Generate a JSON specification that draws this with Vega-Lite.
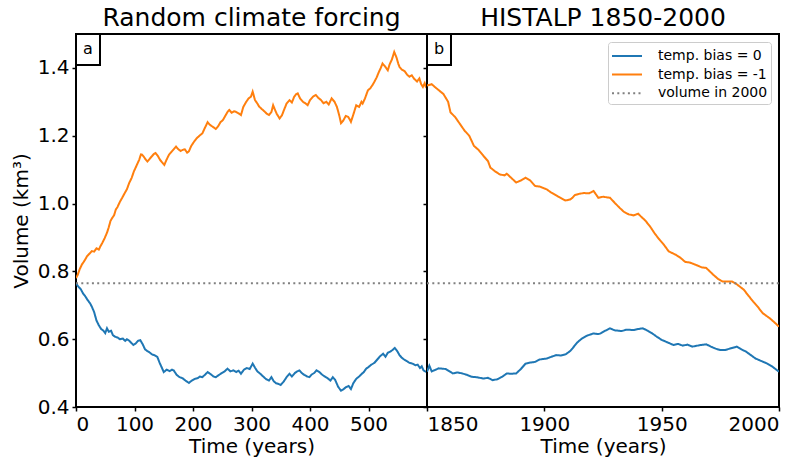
{
  "$schema": "https://vega.github.io/schema/vega-lite/v6.json",
  "padding": {"left": 10, "top": 5, "right": 5, "bottom": 0},
  "spacing": 0,
  "bounds": "flush",
  "config": {
    "font": "DejaVu Sans",
    "view": {"stroke": "black", "strokeWidth": 2},
    "axis": {"domain": false, "grid": false, "labelFontSize": 20, "titleFontSize": 20, "labelColor": "black", "titleColor": "black", "tickColor": "black", "tickSize": 4, "tickWidth": 1.5, "titleFontWeight": "normal", "labelPadding": 3},
    "axisX": {"titlePadding": 2},
    "title": {"fontSize": 25, "fontWeight": "normal", "offset": -1, "color": "black"}
  },
  "datasets": {
    "left": [
      {"t":0,"v":0.765,"s":"temp. bias = 0"},{"t":4,"v":0.755,"s":"temp. bias = 0"},{"t":8,"v":0.748,"s":"temp. bias = 0"},{"t":12,"v":0.735,"s":"temp. bias = 0"},{"t":16,"v":0.726,"s":"temp. bias = 0"},{"t":20,"v":0.715,"s":"temp. bias = 0"},{"t":24,"v":0.706,"s":"temp. bias = 0"},{"t":27,"v":0.696,"s":"temp. bias = 0"},{"t":31,"v":0.68,"s":"temp. bias = 0"},{"t":35,"v":0.655,"s":"temp. bias = 0"},{"t":39,"v":0.641,"s":"temp. bias = 0"},{"t":43,"v":0.63,"s":"temp. bias = 0"},{"t":47,"v":0.625,"s":"temp. bias = 0"},{"t":50,"v":0.618,"s":"temp. bias = 0"},{"t":53,"v":0.632,"s":"temp. bias = 0"},{"t":56,"v":0.622,"s":"temp. bias = 0"},{"t":60,"v":0.625,"s":"temp. bias = 0"},{"t":63,"v":0.612,"s":"temp. bias = 0"},{"t":67,"v":0.607,"s":"temp. bias = 0"},{"t":71,"v":0.605,"s":"temp. bias = 0"},{"t":75,"v":0.6,"s":"temp. bias = 0"},{"t":80,"v":0.602,"s":"temp. bias = 0"},{"t":84,"v":0.595,"s":"temp. bias = 0"},{"t":87,"v":0.6,"s":"temp. bias = 0"},{"t":90,"v":0.597,"s":"temp. bias = 0"},{"t":94,"v":0.59,"s":"temp. bias = 0"},{"t":98,"v":0.583,"s":"temp. bias = 0"},{"t":102,"v":0.587,"s":"temp. bias = 0"},{"t":106,"v":0.595,"s":"temp. bias = 0"},{"t":110,"v":0.597,"s":"temp. bias = 0"},{"t":114,"v":0.585,"s":"temp. bias = 0"},{"t":118,"v":0.57,"s":"temp. bias = 0"},{"t":122,"v":0.565,"s":"temp. bias = 0"},{"t":125,"v":0.562,"s":"temp. bias = 0"},{"t":130,"v":0.555,"s":"temp. bias = 0"},{"t":134,"v":0.553,"s":"temp. bias = 0"},{"t":139,"v":0.548,"s":"temp. bias = 0"},{"t":143,"v":0.53,"s":"temp. bias = 0"},{"t":147,"v":0.515,"s":"temp. bias = 0"},{"t":150,"v":0.503,"s":"temp. bias = 0"},{"t":155,"v":0.51,"s":"temp. bias = 0"},{"t":160,"v":0.506,"s":"temp. bias = 0"},{"t":164,"v":0.51,"s":"temp. bias = 0"},{"t":167,"v":0.508,"s":"temp. bias = 0"},{"t":172,"v":0.495,"s":"temp. bias = 0"},{"t":177,"v":0.488,"s":"temp. bias = 0"},{"t":182,"v":0.485,"s":"temp. bias = 0"},{"t":187,"v":0.478,"s":"temp. bias = 0"},{"t":193,"v":0.471,"s":"temp. bias = 0"},{"t":198,"v":0.478,"s":"temp. bias = 0"},{"t":203,"v":0.483,"s":"temp. bias = 0"},{"t":208,"v":0.485,"s":"temp. bias = 0"},{"t":212,"v":0.49,"s":"temp. bias = 0"},{"t":216,"v":0.488,"s":"temp. bias = 0"},{"t":221,"v":0.496,"s":"temp. bias = 0"},{"t":225,"v":0.503,"s":"temp. bias = 0"},{"t":230,"v":0.497,"s":"temp. bias = 0"},{"t":235,"v":0.49,"s":"temp. bias = 0"},{"t":239,"v":0.488,"s":"temp. bias = 0"},{"t":244,"v":0.494,"s":"temp. bias = 0"},{"t":249,"v":0.5,"s":"temp. bias = 0"},{"t":254,"v":0.505,"s":"temp. bias = 0"},{"t":259,"v":0.513,"s":"temp. bias = 0"},{"t":264,"v":0.505,"s":"temp. bias = 0"},{"t":269,"v":0.508,"s":"temp. bias = 0"},{"t":274,"v":0.503,"s":"temp. bias = 0"},{"t":278,"v":0.507,"s":"temp. bias = 0"},{"t":282,"v":0.498,"s":"temp. bias = 0"},{"t":287,"v":0.51,"s":"temp. bias = 0"},{"t":292,"v":0.515,"s":"temp. bias = 0"},{"t":297,"v":0.512,"s":"temp. bias = 0"},{"t":302,"v":0.528,"s":"temp. bias = 0"},{"t":306,"v":0.516,"s":"temp. bias = 0"},{"t":310,"v":0.505,"s":"temp. bias = 0"},{"t":315,"v":0.498,"s":"temp. bias = 0"},{"t":320,"v":0.49,"s":"temp. bias = 0"},{"t":325,"v":0.482,"s":"temp. bias = 0"},{"t":330,"v":0.478,"s":"temp. bias = 0"},{"t":334,"v":0.488,"s":"temp. bias = 0"},{"t":338,"v":0.476,"s":"temp. bias = 0"},{"t":342,"v":0.47,"s":"temp. bias = 0"},{"t":346,"v":0.468,"s":"temp. bias = 0"},{"t":350,"v":0.465,"s":"temp. bias = 0"},{"t":355,"v":0.475,"s":"temp. bias = 0"},{"t":360,"v":0.488,"s":"temp. bias = 0"},{"t":365,"v":0.498,"s":"temp. bias = 0"},{"t":369,"v":0.49,"s":"temp. bias = 0"},{"t":374,"v":0.5,"s":"temp. bias = 0"},{"t":378,"v":0.505,"s":"temp. bias = 0"},{"t":382,"v":0.508,"s":"temp. bias = 0"},{"t":386,"v":0.5,"s":"temp. bias = 0"},{"t":390,"v":0.495,"s":"temp. bias = 0"},{"t":395,"v":0.49,"s":"temp. bias = 0"},{"t":399,"v":0.488,"s":"temp. bias = 0"},{"t":403,"v":0.496,"s":"temp. bias = 0"},{"t":407,"v":0.5,"s":"temp. bias = 0"},{"t":411,"v":0.508,"s":"temp. bias = 0"},{"t":416,"v":0.503,"s":"temp. bias = 0"},{"t":421,"v":0.495,"s":"temp. bias = 0"},{"t":425,"v":0.49,"s":"temp. bias = 0"},{"t":430,"v":0.485,"s":"temp. bias = 0"},{"t":435,"v":0.478,"s":"temp. bias = 0"},{"t":439,"v":0.488,"s":"temp. bias = 0"},{"t":443,"v":0.48,"s":"temp. bias = 0"},{"t":448,"v":0.46,"s":"temp. bias = 0"},{"t":453,"v":0.448,"s":"temp. bias = 0"},{"t":457,"v":0.452,"s":"temp. bias = 0"},{"t":461,"v":0.458,"s":"temp. bias = 0"},{"t":466,"v":0.462,"s":"temp. bias = 0"},{"t":470,"v":0.453,"s":"temp. bias = 0"},{"t":474,"v":0.47,"s":"temp. bias = 0"},{"t":479,"v":0.483,"s":"temp. bias = 0"},{"t":484,"v":0.49,"s":"temp. bias = 0"},{"t":488,"v":0.497,"s":"temp. bias = 0"},{"t":492,"v":0.503,"s":"temp. bias = 0"},{"t":496,"v":0.513,"s":"temp. bias = 0"},{"t":500,"v":0.518,"s":"temp. bias = 0"},{"t":505,"v":0.525,"s":"temp. bias = 0"},{"t":510,"v":0.53,"s":"temp. bias = 0"},{"t":515,"v":0.54,"s":"temp. bias = 0"},{"t":520,"v":0.55,"s":"temp. bias = 0"},{"t":525,"v":0.557,"s":"temp. bias = 0"},{"t":529,"v":0.548,"s":"temp. bias = 0"},{"t":533,"v":0.56,"s":"temp. bias = 0"},{"t":537,"v":0.563,"s":"temp. bias = 0"},{"t":541,"v":0.568,"s":"temp. bias = 0"},{"t":545,"v":0.574,"s":"temp. bias = 0"},{"t":549,"v":0.565,"s":"temp. bias = 0"},{"t":553,"v":0.553,"s":"temp. bias = 0"},{"t":557,"v":0.545,"s":"temp. bias = 0"},{"t":561,"v":0.54,"s":"temp. bias = 0"},{"t":566,"v":0.535,"s":"temp. bias = 0"},{"t":570,"v":0.53,"s":"temp. bias = 0"},{"t":575,"v":0.528,"s":"temp. bias = 0"},{"t":580,"v":0.523,"s":"temp. bias = 0"},{"t":584,"v":0.525,"s":"temp. bias = 0"},{"t":588,"v":0.515,"s":"temp. bias = 0"},{"t":591,"v":0.52,"s":"temp. bias = 0"},{"t":594,"v":0.508,"s":"temp. bias = 0"},{"t":597,"v":0.505,"s":"temp. bias = 0"},{"t":600,"v":0.503,"s":"temp. bias = 0"},
      {"t":0,"v":0.78,"s":"temp. bias = -1"},{"t":3,"v":0.79,"s":"temp. bias = -1"},{"t":6,"v":0.805,"s":"temp. bias = -1"},{"t":10,"v":0.82,"s":"temp. bias = -1"},{"t":14,"v":0.83,"s":"temp. bias = -1"},{"t":19,"v":0.845,"s":"temp. bias = -1"},{"t":23,"v":0.852,"s":"temp. bias = -1"},{"t":27,"v":0.86,"s":"temp. bias = -1"},{"t":31,"v":0.858,"s":"temp. bias = -1"},{"t":35,"v":0.868,"s":"temp. bias = -1"},{"t":39,"v":0.864,"s":"temp. bias = -1"},{"t":42,"v":0.875,"s":"temp. bias = -1"},{"t":45,"v":0.884,"s":"temp. bias = -1"},{"t":49,"v":0.898,"s":"temp. bias = -1"},{"t":53,"v":0.914,"s":"temp. bias = -1"},{"t":56,"v":0.93,"s":"temp. bias = -1"},{"t":59,"v":0.949,"s":"temp. bias = -1"},{"t":62,"v":0.958,"s":"temp. bias = -1"},{"t":65,"v":0.965,"s":"temp. bias = -1"},{"t":68,"v":0.982,"s":"temp. bias = -1"},{"t":71,"v":0.99,"s":"temp. bias = -1"},{"t":75,"v":1.005,"s":"temp. bias = -1"},{"t":79,"v":1.017,"s":"temp. bias = -1"},{"t":83,"v":1.03,"s":"temp. bias = -1"},{"t":87,"v":1.042,"s":"temp. bias = -1"},{"t":91,"v":1.061,"s":"temp. bias = -1"},{"t":95,"v":1.075,"s":"temp. bias = -1"},{"t":99,"v":1.095,"s":"temp. bias = -1"},{"t":103,"v":1.11,"s":"temp. bias = -1"},{"t":108,"v":1.129,"s":"temp. bias = -1"},{"t":111,"v":1.145,"s":"temp. bias = -1"},{"t":113,"v":1.144,"s":"temp. bias = -1"},{"t":116,"v":1.138,"s":"temp. bias = -1"},{"t":119,"v":1.13,"s":"temp. bias = -1"},{"t":122,"v":1.124,"s":"temp. bias = -1"},{"t":126,"v":1.132,"s":"temp. bias = -1"},{"t":130,"v":1.14,"s":"temp. bias = -1"},{"t":133,"v":1.146,"s":"temp. bias = -1"},{"t":136,"v":1.149,"s":"temp. bias = -1"},{"t":140,"v":1.14,"s":"temp. bias = -1"},{"t":144,"v":1.128,"s":"temp. bias = -1"},{"t":148,"v":1.12,"s":"temp. bias = -1"},{"t":151,"v":1.114,"s":"temp. bias = -1"},{"t":155,"v":1.13,"s":"temp. bias = -1"},{"t":159,"v":1.144,"s":"temp. bias = -1"},{"t":163,"v":1.152,"s":"temp. bias = -1"},{"t":167,"v":1.16,"s":"temp. bias = -1"},{"t":171,"v":1.168,"s":"temp. bias = -1"},{"t":175,"v":1.16,"s":"temp. bias = -1"},{"t":179,"v":1.155,"s":"temp. bias = -1"},{"t":182,"v":1.158,"s":"temp. bias = -1"},{"t":186,"v":1.16,"s":"temp. bias = -1"},{"t":190,"v":1.15,"s":"temp. bias = -1"},{"t":193,"v":1.154,"s":"temp. bias = -1"},{"t":197,"v":1.17,"s":"temp. bias = -1"},{"t":202,"v":1.183,"s":"temp. bias = -1"},{"t":206,"v":1.192,"s":"temp. bias = -1"},{"t":211,"v":1.2,"s":"temp. bias = -1"},{"t":216,"v":1.207,"s":"temp. bias = -1"},{"t":220,"v":1.222,"s":"temp. bias = -1"},{"t":225,"v":1.24,"s":"temp. bias = -1"},{"t":229,"v":1.232,"s":"temp. bias = -1"},{"t":234,"v":1.226,"s":"temp. bias = -1"},{"t":239,"v":1.22,"s":"temp. bias = -1"},{"t":243,"v":1.228,"s":"temp. bias = -1"},{"t":247,"v":1.24,"s":"temp. bias = -1"},{"t":251,"v":1.246,"s":"temp. bias = -1"},{"t":255,"v":1.258,"s":"temp. bias = -1"},{"t":259,"v":1.27,"s":"temp. bias = -1"},{"t":262,"v":1.276,"s":"temp. bias = -1"},{"t":266,"v":1.268,"s":"temp. bias = -1"},{"t":270,"v":1.272,"s":"temp. bias = -1"},{"t":273,"v":1.271,"s":"temp. bias = -1"},{"t":278,"v":1.266,"s":"temp. bias = -1"},{"t":282,"v":1.261,"s":"temp. bias = -1"},{"t":286,"v":1.285,"s":"temp. bias = -1"},{"t":291,"v":1.3,"s":"temp. bias = -1"},{"t":295,"v":1.31,"s":"temp. bias = -1"},{"t":299,"v":1.315,"s":"temp. bias = -1"},{"t":302,"v":1.33,"s":"temp. bias = -1"},{"t":306,"v":1.305,"s":"temp. bias = -1"},{"t":310,"v":1.295,"s":"temp. bias = -1"},{"t":313,"v":1.286,"s":"temp. bias = -1"},{"t":318,"v":1.278,"s":"temp. bias = -1"},{"t":322,"v":1.272,"s":"temp. bias = -1"},{"t":326,"v":1.265,"s":"temp. bias = -1"},{"t":330,"v":1.261,"s":"temp. bias = -1"},{"t":334,"v":1.27,"s":"temp. bias = -1"},{"t":337,"v":1.29,"s":"temp. bias = -1"},{"t":339,"v":1.281,"s":"temp. bias = -1"},{"t":343,"v":1.265,"s":"temp. bias = -1"},{"t":348,"v":1.251,"s":"temp. bias = -1"},{"t":352,"v":1.26,"s":"temp. bias = -1"},{"t":356,"v":1.278,"s":"temp. bias = -1"},{"t":360,"v":1.295,"s":"temp. bias = -1"},{"t":365,"v":1.305,"s":"temp. bias = -1"},{"t":369,"v":1.298,"s":"temp. bias = -1"},{"t":373,"v":1.315,"s":"temp. bias = -1"},{"t":376,"v":1.322,"s":"temp. bias = -1"},{"t":379,"v":1.325,"s":"temp. bias = -1"},{"t":383,"v":1.31,"s":"temp. bias = -1"},{"t":388,"v":1.3,"s":"temp. bias = -1"},{"t":392,"v":1.296,"s":"temp. bias = -1"},{"t":396,"v":1.29,"s":"temp. bias = -1"},{"t":400,"v":1.305,"s":"temp. bias = -1"},{"t":405,"v":1.315,"s":"temp. bias = -1"},{"t":410,"v":1.32,"s":"temp. bias = -1"},{"t":414,"v":1.312,"s":"temp. bias = -1"},{"t":419,"v":1.305,"s":"temp. bias = -1"},{"t":423,"v":1.296,"s":"temp. bias = -1"},{"t":428,"v":1.3,"s":"temp. bias = -1"},{"t":432,"v":1.292,"s":"temp. bias = -1"},{"t":437,"v":1.31,"s":"temp. bias = -1"},{"t":442,"v":1.3,"s":"temp. bias = -1"},{"t":446,"v":1.285,"s":"temp. bias = -1"},{"t":450,"v":1.26,"s":"temp. bias = -1"},{"t":453,"v":1.237,"s":"temp. bias = -1"},{"t":457,"v":1.245,"s":"temp. bias = -1"},{"t":461,"v":1.258,"s":"temp. bias = -1"},{"t":465,"v":1.256,"s":"temp. bias = -1"},{"t":468,"v":1.248,"s":"temp. bias = -1"},{"t":470,"v":1.241,"s":"temp. bias = -1"},{"t":474,"v":1.262,"s":"temp. bias = -1"},{"t":479,"v":1.29,"s":"temp. bias = -1"},{"t":484,"v":1.285,"s":"temp. bias = -1"},{"t":488,"v":1.3,"s":"temp. bias = -1"},{"t":490,"v":1.295,"s":"temp. bias = -1"},{"t":494,"v":1.31,"s":"temp. bias = -1"},{"t":499,"v":1.334,"s":"temp. bias = -1"},{"t":503,"v":1.34,"s":"temp. bias = -1"},{"t":507,"v":1.35,"s":"temp. bias = -1"},{"t":510,"v":1.359,"s":"temp. bias = -1"},{"t":514,"v":1.372,"s":"temp. bias = -1"},{"t":517,"v":1.385,"s":"temp. bias = -1"},{"t":521,"v":1.4,"s":"temp. bias = -1"},{"t":524,"v":1.413,"s":"temp. bias = -1"},{"t":528,"v":1.405,"s":"temp. bias = -1"},{"t":533,"v":1.393,"s":"temp. bias = -1"},{"t":536,"v":1.41,"s":"temp. bias = -1"},{"t":540,"v":1.425,"s":"temp. bias = -1"},{"t":544,"v":1.447,"s":"temp. bias = -1"},{"t":548,"v":1.43,"s":"temp. bias = -1"},{"t":551,"v":1.412,"s":"temp. bias = -1"},{"t":553,"v":1.403,"s":"temp. bias = -1"},{"t":557,"v":1.395,"s":"temp. bias = -1"},{"t":562,"v":1.39,"s":"temp. bias = -1"},{"t":566,"v":1.38,"s":"temp. bias = -1"},{"t":570,"v":1.374,"s":"temp. bias = -1"},{"t":574,"v":1.378,"s":"temp. bias = -1"},{"t":578,"v":1.368,"s":"temp. bias = -1"},{"t":583,"v":1.36,"s":"temp. bias = -1"},{"t":587,"v":1.369,"s":"temp. bias = -1"},{"t":590,"v":1.352,"s":"temp. bias = -1"},{"t":593,"v":1.344,"s":"temp. bias = -1"},{"t":596,"v":1.355,"s":"temp. bias = -1"},{"t":598,"v":1.344,"s":"temp. bias = -1"},{"t":600,"v":1.34,"s":"temp. bias = -1"},
      {"t":0,"v":0.765,"s":"volume in 2000"},{"t":600,"v":0.765,"s":"volume in 2000"}
    ],
    "right": [
      {"t":1850,"v":0.504,"s":"temp. bias = 0"},{"t":1851,"v":0.522,"s":"temp. bias = 0"},{"t":1852,"v":0.505,"s":"temp. bias = 0"},{"t":1855,"v":0.514,"s":"temp. bias = 0"},{"t":1858,"v":0.512,"s":"temp. bias = 0"},{"t":1861,"v":0.499,"s":"temp. bias = 0"},{"t":1863,"v":0.502,"s":"temp. bias = 0"},{"t":1865,"v":0.499,"s":"temp. bias = 0"},{"t":1867,"v":0.495,"s":"temp. bias = 0"},{"t":1869,"v":0.489,"s":"temp. bias = 0"},{"t":1871,"v":0.488,"s":"temp. bias = 0"},{"t":1874,"v":0.484,"s":"temp. bias = 0"},{"t":1876,"v":0.486,"s":"temp. bias = 0"},{"t":1878,"v":0.479,"s":"temp. bias = 0"},{"t":1880,"v":0.482,"s":"temp. bias = 0"},{"t":1882,"v":0.489,"s":"temp. bias = 0"},{"t":1884,"v":0.499,"s":"temp. bias = 0"},{"t":1886,"v":0.498,"s":"temp. bias = 0"},{"t":1888,"v":0.499,"s":"temp. bias = 0"},{"t":1890,"v":0.512,"s":"temp. bias = 0"},{"t":1892,"v":0.528,"s":"temp. bias = 0"},{"t":1894,"v":0.531,"s":"temp. bias = 0"},{"t":1896,"v":0.533,"s":"temp. bias = 0"},{"t":1898,"v":0.54,"s":"temp. bias = 0"},{"t":1901,"v":0.543,"s":"temp. bias = 0"},{"t":1903,"v":0.548,"s":"temp. bias = 0"},{"t":1905,"v":0.553,"s":"temp. bias = 0"},{"t":1907,"v":0.552,"s":"temp. bias = 0"},{"t":1909,"v":0.555,"s":"temp. bias = 0"},{"t":1911,"v":0.565,"s":"temp. bias = 0"},{"t":1912,"v":0.573,"s":"temp. bias = 0"},{"t":1914,"v":0.59,"s":"temp. bias = 0"},{"t":1916,"v":0.602,"s":"temp. bias = 0"},{"t":1918,"v":0.61,"s":"temp. bias = 0"},{"t":1921,"v":0.617,"s":"temp. bias = 0"},{"t":1923,"v":0.615,"s":"temp. bias = 0"},{"t":1924,"v":0.617,"s":"temp. bias = 0"},{"t":1926,"v":0.625,"s":"temp. bias = 0"},{"t":1928,"v":0.632,"s":"temp. bias = 0"},{"t":1930,"v":0.626,"s":"temp. bias = 0"},{"t":1933,"v":0.624,"s":"temp. bias = 0"},{"t":1935,"v":0.628,"s":"temp. bias = 0"},{"t":1938,"v":0.627,"s":"temp. bias = 0"},{"t":1940,"v":0.63,"s":"temp. bias = 0"},{"t":1942,"v":0.632,"s":"temp. bias = 0"},{"t":1944,"v":0.625,"s":"temp. bias = 0"},{"t":1946,"v":0.617,"s":"temp. bias = 0"},{"t":1948,"v":0.607,"s":"temp. bias = 0"},{"t":1950,"v":0.598,"s":"temp. bias = 0"},{"t":1952,"v":0.592,"s":"temp. bias = 0"},{"t":1955,"v":0.583,"s":"temp. bias = 0"},{"t":1957,"v":0.586,"s":"temp. bias = 0"},{"t":1959,"v":0.581,"s":"temp. bias = 0"},{"t":1961,"v":0.584,"s":"temp. bias = 0"},{"t":1963,"v":0.578,"s":"temp. bias = 0"},{"t":1966,"v":0.582,"s":"temp. bias = 0"},{"t":1969,"v":0.585,"s":"temp. bias = 0"},{"t":1971,"v":0.578,"s":"temp. bias = 0"},{"t":1973,"v":0.572,"s":"temp. bias = 0"},{"t":1975,"v":0.568,"s":"temp. bias = 0"},{"t":1977,"v":0.568,"s":"temp. bias = 0"},{"t":1980,"v":0.574,"s":"temp. bias = 0"},{"t":1982,"v":0.578,"s":"temp. bias = 0"},{"t":1984,"v":0.57,"s":"temp. bias = 0"},{"t":1986,"v":0.563,"s":"temp. bias = 0"},{"t":1988,"v":0.553,"s":"temp. bias = 0"},{"t":1990,"v":0.543,"s":"temp. bias = 0"},{"t":1992,"v":0.537,"s":"temp. bias = 0"},{"t":1995,"v":0.528,"s":"temp. bias = 0"},{"t":1997,"v":0.52,"s":"temp. bias = 0"},{"t":2000,"v":0.504,"s":"temp. bias = 0"},
      {"t":1850,"v":1.348,"s":"temp. bias = -1"},{"t":1852,"v":1.352,"s":"temp. bias = -1"},{"t":1854,"v":1.34,"s":"temp. bias = -1"},{"t":1857,"v":1.323,"s":"temp. bias = -1"},{"t":1859,"v":1.3,"s":"temp. bias = -1"},{"t":1860,"v":1.269,"s":"temp. bias = -1"},{"t":1862,"v":1.255,"s":"temp. bias = -1"},{"t":1864,"v":1.235,"s":"temp. bias = -1"},{"t":1866,"v":1.215,"s":"temp. bias = -1"},{"t":1868,"v":1.2,"s":"temp. bias = -1"},{"t":1870,"v":1.17,"s":"temp. bias = -1"},{"t":1872,"v":1.158,"s":"temp. bias = -1"},{"t":1874,"v":1.141,"s":"temp. bias = -1"},{"t":1876,"v":1.125,"s":"temp. bias = -1"},{"t":1877,"v":1.106,"s":"temp. bias = -1"},{"t":1879,"v":1.095,"s":"temp. bias = -1"},{"t":1881,"v":1.086,"s":"temp. bias = -1"},{"t":1883,"v":1.083,"s":"temp. bias = -1"},{"t":1884,"v":1.088,"s":"temp. bias = -1"},{"t":1886,"v":1.075,"s":"temp. bias = -1"},{"t":1888,"v":1.062,"s":"temp. bias = -1"},{"t":1890,"v":1.068,"s":"temp. bias = -1"},{"t":1892,"v":1.076,"s":"temp. bias = -1"},{"t":1894,"v":1.068,"s":"temp. bias = -1"},{"t":1896,"v":1.052,"s":"temp. bias = -1"},{"t":1898,"v":1.05,"s":"temp. bias = -1"},{"t":1901,"v":1.042,"s":"temp. bias = -1"},{"t":1903,"v":1.032,"s":"temp. bias = -1"},{"t":1906,"v":1.02,"s":"temp. bias = -1"},{"t":1909,"v":1.009,"s":"temp. bias = -1"},{"t":1911,"v":1.012,"s":"temp. bias = -1"},{"t":1912,"v":1.017,"s":"temp. bias = -1"},{"t":1913,"v":1.025,"s":"temp. bias = -1"},{"t":1915,"v":1.029,"s":"temp. bias = -1"},{"t":1917,"v":1.031,"s":"temp. bias = -1"},{"t":1919,"v":1.03,"s":"temp. bias = -1"},{"t":1921,"v":1.037,"s":"temp. bias = -1"},{"t":1923,"v":1.017,"s":"temp. bias = -1"},{"t":1925,"v":1.02,"s":"temp. bias = -1"},{"t":1928,"v":1.017,"s":"temp. bias = -1"},{"t":1930,"v":1.002,"s":"temp. bias = -1"},{"t":1932,"v":0.988,"s":"temp. bias = -1"},{"t":1934,"v":0.975,"s":"temp. bias = -1"},{"t":1936,"v":0.968,"s":"temp. bias = -1"},{"t":1938,"v":0.965,"s":"temp. bias = -1"},{"t":1940,"v":0.97,"s":"temp. bias = -1"},{"t":1941,"v":0.963,"s":"temp. bias = -1"},{"t":1943,"v":0.95,"s":"temp. bias = -1"},{"t":1945,"v":0.933,"s":"temp. bias = -1"},{"t":1947,"v":0.912,"s":"temp. bias = -1"},{"t":1949,"v":0.894,"s":"temp. bias = -1"},{"t":1951,"v":0.878,"s":"temp. bias = -1"},{"t":1953,"v":0.859,"s":"temp. bias = -1"},{"t":1956,"v":0.849,"s":"temp. bias = -1"},{"t":1958,"v":0.84,"s":"temp. bias = -1"},{"t":1960,"v":0.828,"s":"temp. bias = -1"},{"t":1962,"v":0.826,"s":"temp. bias = -1"},{"t":1965,"v":0.818,"s":"temp. bias = -1"},{"t":1967,"v":0.812,"s":"temp. bias = -1"},{"t":1969,"v":0.81,"s":"temp. bias = -1"},{"t":1972,"v":0.79,"s":"temp. bias = -1"},{"t":1974,"v":0.778,"s":"temp. bias = -1"},{"t":1976,"v":0.77,"s":"temp. bias = -1"},{"t":1978,"v":0.77,"s":"temp. bias = -1"},{"t":1980,"v":0.77,"s":"temp. bias = -1"},{"t":1982,"v":0.762,"s":"temp. bias = -1"},{"t":1985,"v":0.746,"s":"temp. bias = -1"},{"t":1987,"v":0.728,"s":"temp. bias = -1"},{"t":1989,"v":0.711,"s":"temp. bias = -1"},{"t":1991,"v":0.695,"s":"temp. bias = -1"},{"t":1993,"v":0.677,"s":"temp. bias = -1"},{"t":1996,"v":0.662,"s":"temp. bias = -1"},{"t":1998,"v":0.65,"s":"temp. bias = -1"},{"t":2000,"v":0.637,"s":"temp. bias = -1"},
      {"t":1850,"v":0.765,"s":"volume in 2000"},{"t":2000,"v":0.765,"s":"volume in 2000"}
    ],
    "labA": [{"t":0,"v":1.5,"lab":"a"}],
    "labB": [{"t":1850,"v":1.5,"lab":"b"}]
  },
  "hconcat": [
    {
      "width": 351,
      "height": 373,
      "title": "Random climate forcing",
      "layer": [
        {
          "data": {"name": "left"},
          "mark": {"type": "line", "strokeWidth": 2, "clip": true},
          "encoding": {
            "x": {"field": "t", "type": "quantitative", "scale": {"domain": [0, 600], "nice": false, "zero": false}, "axis": {"title": "Time (years)", "values": [0, 100, 200, 300, 400, 500], "format": "d"}},
            "y": {"field": "v", "type": "quantitative", "scale": {"domain": [0.4, 1.5], "nice": false, "zero": false}, "axis": {"title": "Volume (km³)", "values": [0.4, 0.6, 0.8, 1.0, 1.2, 1.4], "format": ".1f", "titlePadding": 6}},
            "color": {"field": "s", "type": "nominal", "scale": {"domain": ["temp. bias = 0", "temp. bias = -1", "volume in 2000"], "range": ["#1f77b4", "#ff7f0e", "#808080"]}, "legend": null},
            "strokeDash": {"field": "s", "type": "nominal", "scale": {"domain": ["temp. bias = 0", "temp. bias = -1", "volume in 2000"], "range": [[1, 0], [1, 0], [2, 3.3]]}, "legend": null}
          }
        },
        {
          "data": {"name": "labA"},
          "mark": {"type": "point", "shape": "M-0.774,-1L0.774,-1L0.774,1L-0.774,1Z", "size": 961, "filled": true, "fill": "white", "stroke": "black", "strokeWidth": 2, "opacity": 1, "xOffset": 12, "yOffset": 15.5},
          "encoding": {"x": {"field": "t", "type": "quantitative"}, "y": {"field": "v", "type": "quantitative"}}
        },
        {
          "data": {"name": "labA"},
          "mark": {"type": "text", "fontSize": 16, "align": "center", "baseline": "middle", "dx": 12, "dy": 15, "color": "black"},
          "encoding": {"x": {"field": "t", "type": "quantitative"}, "y": {"field": "v", "type": "quantitative"}, "text": {"field": "lab"}}
        }
      ]
    },
    {
      "width": 352,
      "height": 373,
      "title": "HISTALP 1850-2000",
      "layer": [
        {
          "data": {"name": "right"},
          "mark": {"type": "line", "strokeWidth": 2, "clip": true},
          "encoding": {
            "x": {"field": "t", "type": "quantitative", "scale": {"domain": [1850, 2000], "nice": false, "zero": false}, "axis": {"title": "Time (years)", "values": [1850, 1900, 1950, 2000], "format": "d"}},
            "y": {"field": "v", "type": "quantitative", "scale": {"domain": [0.4, 1.5], "nice": false, "zero": false}, "axis": {"title": null, "labels": false, "values": [0.4, 0.6, 0.8, 1.0, 1.2, 1.4]}},
            "color": {"field": "s", "type": "nominal", "scale": {"domain": ["temp. bias = 0", "temp. bias = -1", "volume in 2000"], "range": ["#1f77b4", "#ff7f0e", "#808080"]},
              "legend": {"orient": "top-right", "offset": 8, "title": null, "labelFontSize": 14, "labelColor": "black", "symbolType": "M-1,0L2,0", "symbolSize": 400, "symbolStrokeWidth": 2, "symbolFillColor": "transparent", "labelOffset": 25, "rowPadding": 0.6, "padding": 3, "strokeColor": "#cccccc", "fillColor": "white", "cornerRadius": 3}},
            "strokeDash": {"field": "s", "type": "nominal", "scale": {"domain": ["temp. bias = 0", "temp. bias = -1", "volume in 2000"], "range": [[1, 0], [1, 0], [2, 3.3]]},
              "legend": {"orient": "top-right", "offset": 8, "title": null, "labelFontSize": 14, "labelColor": "black", "symbolType": "M-1,0L2,0", "symbolSize": 400, "symbolStrokeWidth": 2, "symbolFillColor": "transparent", "labelOffset": 25, "rowPadding": 0.6, "padding": 3, "strokeColor": "#cccccc", "fillColor": "white", "cornerRadius": 3}}
          }
        },
        {
          "data": {"name": "labB"},
          "mark": {"type": "point", "shape": "M-0.774,-1L0.774,-1L0.774,1L-0.774,1Z", "size": 961, "filled": true, "fill": "white", "stroke": "black", "strokeWidth": 2, "opacity": 1, "xOffset": 12, "yOffset": 15.5},
          "encoding": {"x": {"field": "t", "type": "quantitative"}, "y": {"field": "v", "type": "quantitative"}}
        },
        {
          "data": {"name": "labB"},
          "mark": {"type": "text", "fontSize": 16, "align": "center", "baseline": "middle", "dx": 12, "dy": 15, "color": "black"},
          "encoding": {"x": {"field": "t", "type": "quantitative"}, "y": {"field": "v", "type": "quantitative"}, "text": {"field": "lab"}}
        }
      ]
    }
  ],
  "resolve": {"scale": {"x": "independent", "y": "shared", "color": "shared", "strokeDash": "shared"}, "legend": {"color": "independent", "strokeDash": "independent"}}
}
